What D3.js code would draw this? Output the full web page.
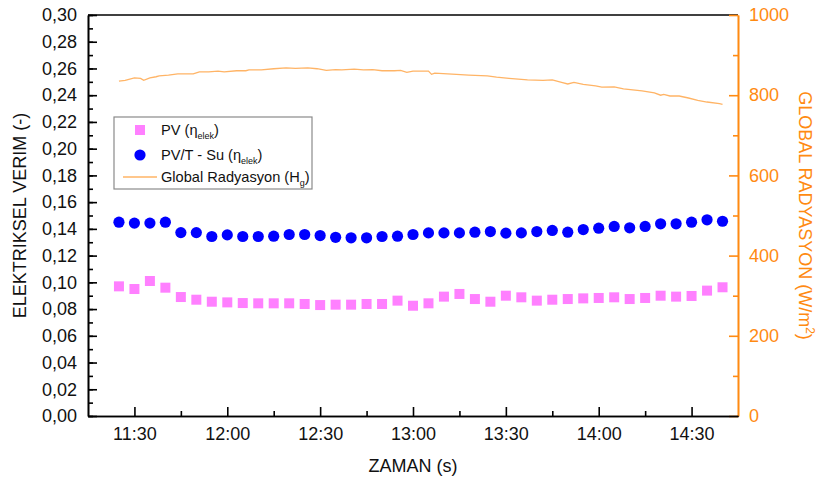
<!DOCTYPE html>
<html>
<head>
<meta charset="utf-8">
<script src="https://cdn.jsdelivr.net/npm/d3@7"></script>
<style>
  body { margin: 0; background: #fff; }
  svg { display: block; font-family: "Liberation Sans", Arial, sans-serif; }
</style>
</head>
<body>
<svg id="chart" width="819" height="481"></svg>
<script>
// DATA
var times = ["11:25","11:30","11:35","11:40","11:45","11:50","11:55","12:00","12:05","12:10",
  "12:15","12:20","12:25","12:30","12:35","12:40","12:45","12:50","12:55","13:00",
  "13:05","13:10","13:15","13:20","13:25","13:30","13:35","13:40","13:45","13:50",
  "13:55","14:00","14:05","14:10","14:15","14:20","14:25","14:30","14:35","14:40"];

var pvValues = [0.097, 0.095, 0.101, 0.096, 0.089, 0.087, 0.0855, 0.085, 0.0845, 0.0843,
  0.0843, 0.0843, 0.0838, 0.083, 0.0833, 0.0833, 0.0838, 0.0838, 0.0863, 0.0825,
  0.0843, 0.0893, 0.0913, 0.0875, 0.0855, 0.09, 0.0888, 0.0863, 0.087, 0.0875,
  0.088, 0.0883, 0.0888, 0.0875, 0.0883, 0.09, 0.0893, 0.0898, 0.0938, 0.0963];

var pvtValues = [0.145, 0.1443, 0.1443, 0.145, 0.1372, 0.1372, 0.1343, 0.1355, 0.1343, 0.1343,
  0.1345, 0.1358, 0.1358, 0.135, 0.1337, 0.1333, 0.1333, 0.1343, 0.1345, 0.1358,
  0.137, 0.137, 0.137, 0.1375, 0.138, 0.1368, 0.137, 0.138, 0.1388, 0.1375,
  0.1395, 0.1405, 0.1418, 0.1408, 0.1418, 0.1438, 0.1438, 0.145, 0.1468, 0.1457];

var radTimes = ["11:25","11:27","11:30","11:32","11:33","11:35","11:37","11:38","11:41","11:44",
  "11:47","11:49","11:51","11:54","11:57","11:59","12:03","12:06","12:07","12:11",
  "12:15","12:19","12:22","12:26","12:29","12:32","12:35","12:37","12:41","12:44",
  "12:47","12:50","12:54","12:56","12:58","13:00","13:05","13:06","13:07","13:14",
  "13:18","13:24","13:27","13:31","13:37","13:42","13:45","13:48","13:50","13:52",
  "13:55","13:59","14:01","14:05","14:08","14:14","14:18","14:20","14:21","14:23",
  "14:26","14:29","14:32","14:35","14:39","14:40"];

var radValues = [835, 837, 843, 842, 837, 843, 846, 848, 850, 853,
  853, 853, 858, 858, 860, 858, 861, 861, 863, 863,
  866, 868, 867, 868, 866, 862, 864, 863, 865, 863,
  864, 861, 861, 862, 857, 860, 860, 852, 855, 852,
  850, 848, 845, 842, 838, 837, 838, 832, 828, 832,
  827, 823, 820, 821, 816, 811, 806, 800, 802, 798,
  798, 793, 787, 783, 779, 777];

var xTickLabels = ["11:30","12:00","12:30","13:00","13:30","14:00","14:30"];
var xDomain = ["11:15", "14:45"];
var leftDomain = [0, 0.30];
var rightDomain = [0, 1000];

// SETUP
var orange = "#ff8a12";
var margin = {top: 15, right: 81, bottom: 65, left: 88};
var svg = d3.select("#chart");
var W = +svg.attr("width"), H = +svg.attr("height");
var width = W - margin.left - margin.right;
var height = H - margin.top - margin.bottom;
var parse = d3.timeParse("%H:%M");
var comma = function(v) { return d3.format(".2f")(v).replace(".", ","); };

var scales = {};
scales.x = d3.scaleTime().domain(xDomain.map(parse)).range([0, width]);
scales.y = d3.scaleLinear().domain(leftDomain).range([height, 0]);
scales.r = d3.scaleLinear().domain(rightDomain).range([height, 0]);

var g = svg.append("g").attr("transform", "translate(" + margin.left + "," + margin.top + ")");

// top frame line
g.append("line").attr("x1", 0).attr("x2", width).attr("y1", 0).attr("y2", 0)
  .attr("stroke", "#000").attr("stroke-width", 1.6);

// left axis minor + major
var yMinor = d3.range(0, 0.301, 0.01);
g.append("g").attr("class", "axis")
  .call(d3.axisLeft(scales.y).tickValues(yMinor).tickSize(-5).tickSizeOuter(0).tickFormat(""));
g.append("g").attr("class", "axis axis--y")
  .call(d3.axisLeft(scales.y).tickValues(d3.range(0, 0.301, 0.02)).tickSize(-9).tickSizeOuter(0)
    .tickPadding(11).tickFormat(comma));

// right axis
var rAxisG = g.append("g").attr("transform", "translate(" + width + ",0)");
rAxisG.append("g").attr("class", "raxis")
  .call(d3.axisRight(scales.r).tickValues(d3.range(100, 1000, 200)).tickSize(-5).tickSizeOuter(0).tickFormat(""));
rAxisG.append("g").attr("class", "raxis")
  .call(d3.axisRight(scales.r).tickValues(d3.range(0, 1001, 200)).tickSize(-9).tickSizeOuter(0)
    .tickPadding(11).tickFormat(d3.format("d")));

// bottom axis
var xMinor = ["11:45","12:15","12:45","13:15","13:45","14:15"].map(parse);
g.append("g").attr("class", "axis").attr("transform", "translate(0," + height + ")")
  .call(d3.axisBottom(scales.x).tickValues(xMinor).tickSize(-5).tickSizeOuter(0).tickFormat(""));
g.append("g").attr("class", "axis axis--x").attr("transform", "translate(0," + height + ")")
  .call(d3.axisBottom(scales.x).tickValues(xTickLabels.map(parse)).tickSize(-9).tickSizeOuter(0)
    .tickPadding(11).tickFormat(d3.timeFormat("%H:%M")));

g.selectAll(".axis path, .axis line").attr("stroke", "#000").attr("stroke-width", 1.6);
g.selectAll(".axis text").attr("fill", "#111").style("font-size", "18px");
g.selectAll(".raxis path, .raxis line").attr("stroke", orange).attr("stroke-width", 1.6);
g.selectAll(".raxis text").attr("fill", orange).style("font-size", "18px");

// radiation line
var radData = radTimes.map(function(t, i) { return {t: parse(t), v: radValues[i]}; });
g.append("path").datum(radData)
  .attr("fill", "none").attr("stroke", "#ffb466").attr("stroke-width", 1.3)
  .attr("d", d3.line().x(function(d) { return scales.x(d.t); }).y(function(d) { return scales.r(d.v); }));

// PV squares
var s = 10;
g.selectAll(".pv").data(times).enter().append("rect")
  .attr("class", "pv")
  .attr("x", function(d) { return scales.x(parse(d)) - s / 2; })
  .attr("y", function(d, i) { return scales.y(pvValues[i]) - s / 2; })
  .attr("width", s).attr("height", s).attr("fill", "#ff80ff");

// PV/T circles
g.selectAll(".pvt").data(times).enter().append("circle")
  .attr("class", "pvt")
  .attr("cx", function(d) { return scales.x(parse(d)); })
  .attr("cy", function(d, i) { return scales.y(pvtValues[i]); })
  .attr("r", 5.6).attr("fill", "#0000ff");

// axis titles
svg.append("text").attr("transform", "translate(26," + (margin.top + height / 2) + ") rotate(-90)")
  .attr("text-anchor", "middle").style("font-size", "18px").attr("fill", "#111")
  .text("ELEKTRIKSEL VERIM (-)");
svg.append("text").attr("x", margin.left + width / 2).attr("y", 472)
  .attr("text-anchor", "middle").style("font-size", "18px").attr("fill", "#111")
  .text("ZAMAN (s)");
var rt = svg.append("text").attr("transform", "translate(799," + (margin.top + height / 2) + ") rotate(90)")
  .attr("text-anchor", "middle").style("font-size", "18px").attr("fill", orange);
rt.append("tspan").text("GLOBAL RADYASYON (W/m");
rt.append("tspan").attr("dy", -7).style("font-size", "12px").text("2");
rt.append("tspan").attr("dy", 7).text(")");

// legend
var lg = svg.append("g").attr("transform", "translate(114,117)");
lg.append("rect").attr("width", 198).attr("height", 72)
  .attr("fill", "#fff").attr("stroke", "#8a8a8a").attr("stroke-width", 1.2);
lg.append("rect").attr("x", 26 - 5).attr("y", 13 - 5).attr("width", 10).attr("height", 10).attr("fill", "#ff80ff");
lg.append("circle").attr("cx", 26).attr("cy", 38).attr("r", 5.6).attr("fill", "#0000ff");
lg.append("line").attr("x1", 9).attr("x2", 43).attr("y1", 60).attr("y2", 60)
  .attr("stroke", "#ffb466").attr("stroke-width", 1.3);

function legendText(y, main, sub) {
  var t = lg.append("text").attr("x", 47).attr("y", y).style("font-size", "14.6px").attr("fill", "#111");
  t.append("tspan").text(main);
  t.append("tspan").attr("dy", 4).style("font-size", "9px").text(sub);
  t.append("tspan").attr("dy", -4).text(")");
}
legendText(18, "PV (\u03b7", "elek");
legendText(43, "PV/T - Su (\u03b7", "elek");
legendText(65, "Global Radyasyon (H", "g");
</script>
</body>
</html>
